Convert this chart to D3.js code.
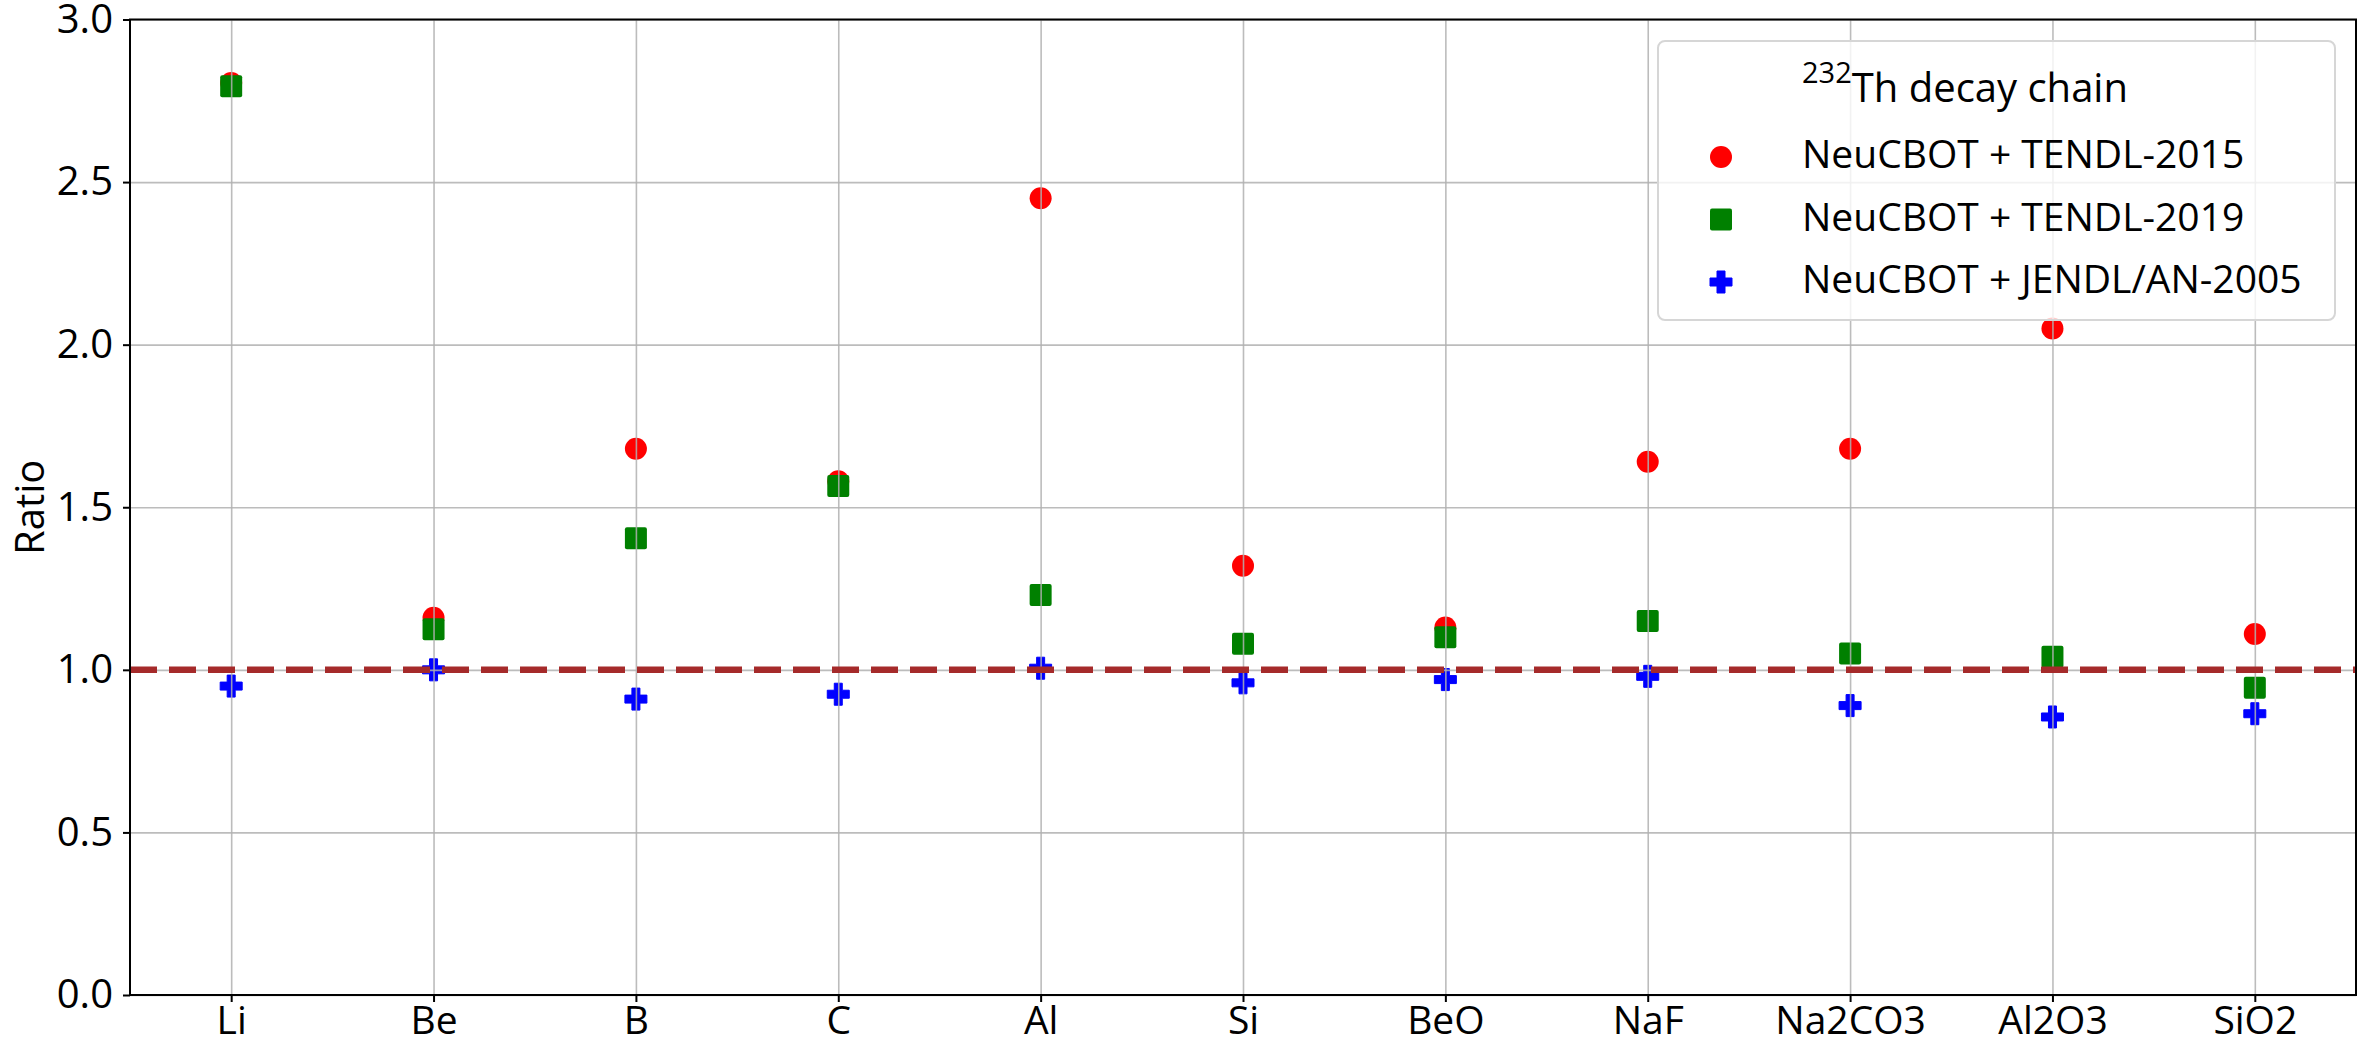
<!DOCTYPE html>
<html>
<head>
<meta charset="utf-8">
<script src="https://cdn.jsdelivr.net/npm/d3@7"></script>
<style>
  body { margin: 0; background: #fff; }
  svg text { font-family: "Open Sans", sans-serif; fill: #000; }
</style>
</head>
<body>
<div id="chart"></div>
<script>
// data
var categories = ["Li", "Be", "B", "C", "Al", "Si", "BeO", "NaF", "Na2CO3", "Al2O3", "SiO2"];
var tendl2015 = [2.805, 1.16, 1.68, 1.58, 2.45, 1.32, 1.13, 1.64, 1.68, 2.05, 1.11];
var tendl2019 = [2.795, 1.125, 1.405, 1.565, 1.23, 1.08, 1.10, 1.15, 1.05, 1.04, 0.945];
var jendl2005 = [0.95, 1.00, 0.91, 0.925, 1.005, 0.96, 0.97, 0.98, 0.89, 0.855, 0.865];
var yTicks = [0, 0.5, 1.0, 1.5, 2.0, 2.5, 3.0];
var seriesNames = ["NeuCBOT + TENDL-2015", "NeuCBOT + TENDL-2019", "NeuCBOT + JENDL/AN-2005"];
var refValue = 1.0;

var width = 2357, height = 1046;
var margin = {top: 19.5, right: 1, bottom: 51, left: 130};

var svg = d3.select('#chart')
  .append('svg')
  .attr('width', width)
  .attr('height', height);

var xScale = d3.scalePoint()
  .domain(categories)
  .range([margin.left, width - margin.right])
  .padding(0.5);

var yScale = d3.scaleLinear()
  .domain([0, 3])
  .range([height - margin.bottom, margin.top]);

// filled plus, like matplotlib 'P'
function plusPath(s, t) {
  var h = s / 2;
  return "M" + (-t) + "," + (-h) + "L" + t + "," + (-h) + "L" + t + "," + (-t) +
    "L" + h + "," + (-t) + "L" + h + "," + t + "L" + t + "," + t +
    "L" + t + "," + h + "L" + (-t) + "," + h + "L" + (-t) + "," + t +
    "L" + (-h) + "," + t + "L" + (-h) + "," + (-t) + "L" + (-t) + "," + (-t) + "Z";
}

var series = [
  {name: seriesNames[0], values: tendl2015, color: "#ff0000", shape: "circle"},
  {name: seriesNames[1], values: tendl2019, color: "#008000", shape: "square"},
  {name: seriesNames[2], values: jendl2005, color: "#0000ff", shape: "plus"}
];

function drawMarker(g, shape, color) {
  if (shape === "circle") {
    g.append("circle").attr("r", 11).attr("fill", color);
  } else if (shape === "square") {
    g.append("rect").attr("x", -11).attr("y", -11).attr("width", 22).attr("height", 22)
      .attr("rx", 2).attr("fill", color);
  } else {
    g.append("path").attr("d", plusPath(22, 4)).attr("fill", color)
      .attr("stroke", color).attr("stroke-width", 1).attr("stroke-linejoin", "round");
  }
}

// markers
series.forEach(function (s) {
  svg.append("g").selectAll("g")
    .data(categories)
    .enter()
    .append("g")
    .attr("transform", function (d, i) {
      return "translate(" + xScale(d) + "," + yScale(s.values[i]) + ")";
    })
    .each(function () { drawMarker(d3.select(this), s.shape, s.color); });
});

// grid (over the markers, as in the reference)
svg.append("g")
  .attr("transform", "translate(0," + (height - margin.bottom) + ")")
  .call(d3.axisBottom(xScale).tickSize(-(height - margin.bottom - margin.top)).tickFormat(""))
  .call(function (g) { g.select(".domain").remove(); })
  .selectAll("line").attr("stroke", "#b0b0b0").attr("stroke-width", 1.6).attr("opacity", 0.85);

svg.append("g")
  .attr("transform", "translate(" + margin.left + ",0)")
  .call(d3.axisLeft(yScale).tickValues(yTicks).tickSize(-(width - margin.left - margin.right)).tickFormat(""))
  .call(function (g) { g.select(".domain").remove(); })
  .selectAll("line").attr("stroke", "#b0b0b0").attr("stroke-width", 1.6).attr("opacity", 0.85);

// reference line at ratio = 1
svg.append("line")
  .attr("x1", margin.left)
  .attr("x2", width - margin.right)
  .attr("y1", yScale(refValue))
  .attr("y2", yScale(refValue))
  .attr("stroke", "#a52a2a")
  .attr("stroke-width", 6.5)
  .attr("stroke-dasharray", "27,12");

// axes
var xAxis = svg.append("g")
  .attr("transform", "translate(0," + (height - margin.bottom) + ")")
  .call(d3.axisBottom(xScale).tickSize(7).tickPadding(4));
xAxis.select(".domain").remove();
xAxis.selectAll("line").attr("stroke", "#000").attr("stroke-width", 2);
xAxis.selectAll("text").attr("font-size", 39).style("font-family", "'Open Sans', sans-serif");

var yAxis = svg.append("g")
  .attr("transform", "translate(" + margin.left + ",0)")
  .call(d3.axisLeft(yScale).tickValues(yTicks).tickFormat(d3.format(".1f")).tickSize(7).tickPadding(10));
yAxis.select(".domain").remove();
yAxis.selectAll("line").attr("stroke", "#000").attr("stroke-width", 2);
yAxis.selectAll("text").attr("font-size", 40).style("font-family", "'Open Sans', sans-serif");

// spines
svg.append("rect")
  .attr("x", margin.left)
  .attr("y", margin.top)
  .attr("width", width - margin.left - margin.right)
  .attr("height", height - margin.top - margin.bottom)
  .attr("fill", "none")
  .attr("stroke", "#000")
  .attr("stroke-width", 2);

// y label
svg.append("text")
  .attr("transform", "translate(44," + ((margin.top + height - margin.bottom) / 2) + ") rotate(-90)")
  .attr("text-anchor", "middle")
  .attr("font-size", 40)
  .text("Ratio");

// legend
var legend = svg.append("g").attr("transform", "translate(1658,41)");
legend.append("rect")
  .attr("width", 677)
  .attr("height", 279)
  .attr("rx", 7)
  .attr("fill", "rgba(255,255,255,0.8)")
  .attr("stroke", "#d6d6d6")
  .attr("stroke-width", 2);

var title = legend.append("text")
  .attr("x", 144)
  .attr("y", 61)
  .attr("font-size", 40);
title.append("tspan").attr("font-size", 29).attr("dy", -19).text("232");
title.append("tspan").attr("dy", 19).text("Th decay chain");

series.forEach(function (s, i) {
  var rowY = 116 + i * 62.5;
  var m = legend.append("g").attr("transform", "translate(63," + rowY + ")");
  drawMarker(m, s.shape, s.color);
  legend.append("text")
    .attr("x", 144)
    .attr("y", rowY + 11)
    .attr("font-size", 39)
    .text(s.name);
});
</script>
</body>
</html>
